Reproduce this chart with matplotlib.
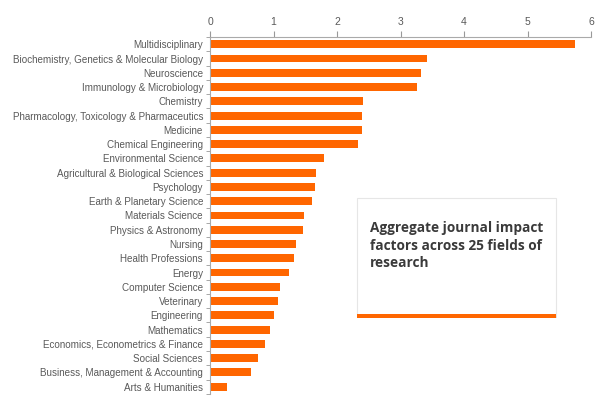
import numpy as np
import matplotlib
matplotlib.use('Agg')
import matplotlib.pyplot as plt
from matplotlib.patches import Rectangle

plt.rcParams['font.family'] = ['Liberation Sans', 'DejaVu Sans']

campos = ['Multidisciplinary', 'Biochemistry, Genetics & Molecular Biology', 'Neuroscience',
          'Immunology & Microbiology', 'Chemistry', 'Pharmacology, Toxicology & Pharmaceutics',
          'Medicine', 'Chemical Engineering', 'Environmental Science',
          'Agricultural & Biological Sciences', 'Psychology', 'Earth & Planetary Science',
          'Materials Science', 'Physics & Astronomy', 'Nursing', 'Health Professions', 'Energy',
          'Computer Science', 'Veterinary', 'Engineering', 'Mathematics',
          'Economics, Econometrics & Finance', 'Social Sciences',
          'Business, Management & Accounting', 'Arts & Humanities']
impacto = [5.75, 3.42, 3.32, 3.26, 2.41, 2.40, 2.40, 2.33, 1.80, 1.67, 1.66, 1.61, 1.48,
           1.46, 1.36, 1.32, 1.25, 1.10, 1.07, 1.01, 0.95, 0.86, 0.76, 0.65, 0.26]
xticks = [0, 1, 2, 3, 4, 5, 6]
titulo = 'Aggregate journal impact\nfactors across 25 fields of\nresearch'

naranja = '#FF6600'
gris = '#595959'

fig = plt.figure(figsize=(6, 3.99), dpi=100)
ax = fig.add_axes([0.35, 0.013, 0.635, 0.894])

y = np.arange(len(campos))
ax.barh(y, impacto, height=0.55, color=naranja)
ax.set_ylim(len(campos) - 0.5, -0.5)
ax.set_xlim(0, 6)

ax.xaxis.tick_top()
ax.set_xticks(xticks)
ax.tick_params(axis='x', direction='out', length=4, color='#999999', labelsize=7.5,
               labelcolor=gris, pad=3)
ax.set_yticks(y)
ax.set_yticklabels(campos)
ax.tick_params(axis='y', which='major', length=0, labelsize=7.1, labelcolor=gris, pad=5)
ax.set_yticks(np.arange(len(campos) + 1) - 0.5, minor=True)
ax.tick_params(axis='y', which='minor', length=3, color='#999999')

for s in ['right', 'bottom']:
    ax.spines[s].set_visible(False)
for s in ['top', 'left']:
    ax.spines[s].set_color('#AAAAAA')
    ax.spines[s].set_linewidth(0.8)

# caja con el título
sombra = Rectangle((0.596, 0.203), 0.333, 0.298, transform=fig.transFigure,
                   facecolor='#E2E2E2', edgecolor='none', zorder=1)
caja = Rectangle((0.595, 0.21), 0.331, 0.295, transform=fig.transFigure,
                 facecolor='white', edgecolor='#E6E6E6', linewidth=0.8, zorder=2)
barra = Rectangle((0.595, 0.203), 0.331, 0.009, transform=fig.transFigure,
                  facecolor=naranja, edgecolor='none', zorder=3)
fig.patches.extend([sombra, caja, barra])
fig.text(0.617, 0.445, titulo, fontsize=9.8, fontweight='bold', color='#3A3A3A',
         family=['Open Sans', 'DejaVu Sans'], va='top', ha='left', linespacing=1.3, zorder=4)

fig.savefig('out.png', dpi=100)
